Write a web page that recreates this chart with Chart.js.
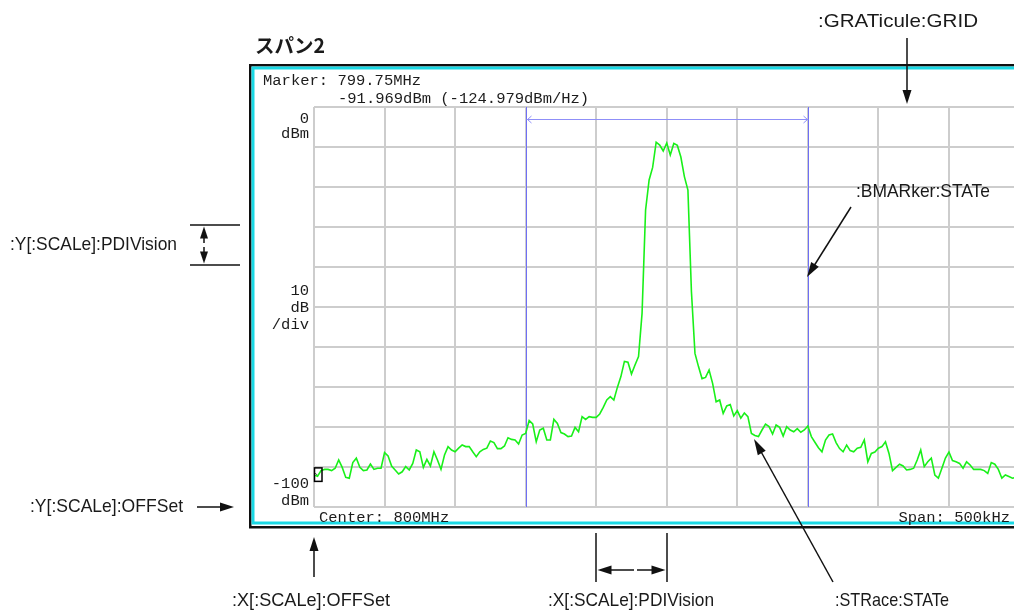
<!DOCTYPE html>
<html><head><meta charset="utf-8">
<script src="https://cdn.jsdelivr.net/npm/chart.js@4.4.1/dist/chart.umd.min.js"></script>
<style>html,body{margin:0;padding:0;background:#fff;overflow:hidden;width:1014px;height:613px}canvas{display:block}</style>
</head><body>
<canvas id="c" width="1024" height="613"></canvas>
<script>
// ---- data ----
const sweepKHz = [
-250,-247.5,-245,-242.5,-240,-237.5,-235,-232.5,-230,-227.5,
-225,-222.5,-220,-217.5,-215,-212.5,-210,-207.5,-205,-202.5,
-200,-197.5,-195,-192.5,-190,-187.5,-185,-182.5,-180,-177.5,
-175,-172.5,-170,-167.5,-165,-162.5,-160,-157.5,-155,-152.5,
-150,-147.5,-145,-142.5,-140,-137.5,-135,-132.5,-130,-127.5,
-125,-122.5,-120,-117.5,-115,-112.5,-110,-107.5,-105,-102.5,
-100,-97.5,-95,-92.5,-90,-87.5,-85,-82.5,-80,-77.5,
-75,-72.5,-70,-67.5,-65,-62.5,-60,-57.5,-55,-52.5,
-50,-47.5,-45,-42.5,-40,-37.5,-35,-32.5,-30,-27.5,
-25,-22.5,-20,-17.5,-15,-12.5,-10,-7.5,-5,-2.5,
0,2.5,5,7.5,10,12.5,15,17.5,20,22.5,
25,27.5,30,32.5,35,37.5,40,42.5,45,47.5,
50,52.5,55,57.5,60,62.5,65,67.5,70,72.5,
75,77.5,80,82.5,85,87.5,90,92.5,95,97.5,
100,102.5,105,107.5,110,112.5,115,117.5,120,122.5,
125,127.5,130,132.5,135,137.5,140,142.5,145,147.5,
150,152.5,155,157.5,160,162.5,165,167.5,170,172.5,
175,177.5,180,182.5,185,187.5,190,192.5,195,197.5,
200,202.5,205,207.5,210,212.5,215,217.5,220,222.5,
225,227.5,230,232.5,235,237.5,240,242.5,245,247.5,
250];
const traceDbm = [
-91.97,-92.3,-90.9,-90.6,-90.6,-90.9,-90.3,-88.25,-90.1,-92.6,
-92.8,-88.9,-87.8,-90.1,-90.9,-90.75,-89.25,-90.6,-90.3,-90.3,
-86.4,-87.25,-89.75,-90.75,-91.75,-91.2,-89.9,-90.75,-89.1,-85.75,
-86.2,-90.1,-88.1,-89.75,-86.2,-88.25,-90.6,-87.0,-84.9,-85.75,
-86.2,-85.3,-84.5,-84.9,-84.9,-86.2,-87.4,-86.2,-85.6,-85.3,
-83.5,-83.9,-85.4,-85.4,-84.75,-82.7,-83.1,-83.25,-84.25,-82.0,
-81.6,-78.4,-79.25,-83.7,-80.75,-80.3,-83.25,-83.25,-78.1,-79.1,
-81.4,-81.75,-82.4,-82.25,-80.1,-81.2,-77.4,-78.1,-77.4,-77.6,
-77.6,-76.75,-75.1,-73.25,-72.4,-73.25,-70.1,-67.4,-63.6,-63.8,
-66.75,-64.5,-62.4,-51.6,-25.75,-18.25,-15.1,-8.8,-9.5,-11.0,
-9.0,-12.0,-9.1,-9.6,-12.5,-17.4,-20.75,-46.2,-61.6,-64.9,
-67.9,-67.6,-65.75,-69.1,-73.7,-73.25,-76.6,-74.75,-74.4,-77.25,
-75.9,-77.8,-76.5,-77.4,-81.6,-82.1,-82.4,-80.75,-79.3,-79.9,
-81.75,-79.5,-80.1,-82.25,-79.9,-80.75,-81.2,-80.4,-81.3,-80.75,
-79.75,-82.4,-83.8,-85.2,-86.2,-83.25,-82.0,-81.75,-83.9,-85.4,
-86.2,-84.5,-85.9,-86.2,-85.3,-85.1,-83.25,-88.7,-86.6,-86.25,
-85.3,-84.9,-83.7,-86.6,-90.9,-90.1,-89.3,-89.75,-90.75,-90.6,
-90.3,-88.25,-85.75,-89.9,-88.7,-87.8,-92.0,-92.8,-90.3,-87.75,
-86.25,-88.4,-88.7,-89.1,-90.3,-88.7,-89.5,-90.6,-90.6,-90.6,
-90.9,-91.6,-88.9,-89.3,-90.6,-92.8,-92.0,-92.4,-92.8,-92.6,
-92.4];
const spanKHz = 500;
const refLevelDbm = 0;
const dbPerDiv = 10;
const yDivs = 10;
const xDivs = 10;
const bandEdgesKHz = [-100, 100];
const markerIndex = 0;
const markerReadout = ['Marker: 799.75MHz', '-91.969dBm (-124.979dBm/Hz)'];
const yTopLabel = ['0', 'dBm'];
const yMidLabel = ['10', 'dB', '/div'];
const yBottomLabel = ['-100', 'dBm'];
const footerLeft = 'Center: 800MHz';
const footerRight = 'Span: 500kHz';
const titleText = 'スパン2';
const calloutTexts = [':GRATicule:GRID', ':BMARker:STATe', ':Y[:SCALe]:PDIVision', ':Y[:SCALe]:OFFSet', ':X[:SCALe]:OFFSet', ':X[:SCALe]:PDIVision', ':STRace:STATe'];

// ---- layout ----
const W = 1024, H = 613;
const PL = 314, PT = 107, PR = 1019.5, PB = 507;
const calloutPos = [
  {x:818, y:22, w:160}, {x:856, y:192, w:134}, {x:10, y:245, w:167},
  {x:30, y:507, w:153}, {x:232, y:601, w:158}, {x:548, y:601, w:166}, {x:835, y:601, w:114}
];
const MONO = '15.5px "Liberation Mono", monospace';
const INK = '#1c1c1c';

function txt(ctx, s, x, y, font, align, color, width) {
  ctx.save(); ctx.font = font; ctx.fillStyle = color || INK; ctx.textBaseline = 'middle';
  if (width) { const m = ctx.measureText(s).width; ctx.translate(x, y); ctx.scale(width / m, 1); ctx.textAlign = 'left'; ctx.fillText(s, 0, 0); }
  else { ctx.textAlign = align || 'left'; ctx.fillText(s, x, y); }
  ctx.restore();
}
function head(ctx, x1, y1, x2, y2, len, half) {
  const a = Math.atan2(y2 - y1, x2 - x1), c = Math.cos(a), s = Math.sin(a);
  ctx.beginPath(); ctx.moveTo(x2, y2);
  ctx.lineTo(x2 - len * c + half * s, y2 - len * s - half * c);
  ctx.lineTo(x2 - len * c - half * s, y2 - len * s + half * c);
  ctx.closePath(); ctx.fill();
}
function arrow(ctx, x1, y1, x2, y2, len, half) {
  len = len || 13; half = half || 4.5;
  const a = Math.atan2(y2 - y1, x2 - x1);
  ctx.beginPath(); ctx.moveTo(x1, y1); ctx.lineTo(x2 - (len - 2) * Math.cos(a), y2 - (len - 2) * Math.sin(a)); ctx.stroke();
  head(ctx, x1, y1, x2, y2, len, half);
}
function line(ctx, x1, y1, x2, y2) { ctx.beginPath(); ctx.moveTo(x1, y1); ctx.lineTo(x2, y2); ctx.stroke(); }

const bandPlugin = {
  id: 'band',
  beforeDatasetsDraw(chart) {
    const ctx = chart.ctx, xs = chart.scales.x, a = chart.chartArea;
    const xa = Math.round(xs.getPixelForValue(bandEdgesKHz[0])) + 0.5;
    const xb = Math.round(xs.getPixelForValue(bandEdgesKHz[1])) + 0.5;
    ctx.save();
    ctx.strokeStyle = '#6f6ff5'; ctx.lineWidth = 1;
    line(ctx, xa, a.top, xa, a.bottom); line(ctx, xb, a.top, xb, a.bottom);
    const yy = a.top + 12.5;
    ctx.strokeStyle = '#8f8ff8';
    line(ctx, xa, yy, xb, yy);
    ctx.beginPath(); ctx.moveTo(xa + 5, yy - 3.5); ctx.lineTo(xa + 1, yy); ctx.lineTo(xa + 5, yy + 3.5);
    ctx.moveTo(xb - 5, yy - 3.5); ctx.lineTo(xb - 1, yy); ctx.lineTo(xb - 5, yy + 3.5); ctx.stroke();
    ctx.restore();
  },
  afterDatasetsDraw(chart) {
    const ctx = chart.ctx, xs = chart.scales.x, ys = chart.scales.y;
    const mx = xs.getPixelForValue(sweepKHz[markerIndex]);
    const my = ys.getPixelForValue(traceDbm[markerIndex]);
    ctx.save(); ctx.strokeStyle = '#000'; ctx.lineWidth = 1.5;
    ctx.strokeRect(mx + 0.5, my - 7, 7.5, 13.5);
    ctx.strokeStyle = '#333'; ctx.lineWidth = 1;
    line(ctx, mx + 1, my - 2, mx + 3, my);
    ctx.restore();
  }
};

const decorPlugin = {
  id: 'decor',
  afterDraw(chart) {
    const ctx = chart.ctx;
    ctx.save();
    // instrument frame
    ctx.strokeStyle = '#101010'; ctx.lineWidth = 2.5;
    ctx.strokeRect(250.25, 65.25, 820, 462);
    ctx.strokeStyle = '#1ad8e4'; ctx.lineWidth = 3;
    ctx.strokeRect(253, 68, 820, 455);
    // title
    txt(ctx, titleText, 255, 46, 'bold 19.5px "Noto Sans CJK JP", sans-serif', 'left', '#1a1a1a');
    // readouts
    txt(ctx, markerReadout[0], 263, 80.5, MONO, 'left');
    txt(ctx, markerReadout[1], 338, 99, MONO, 'left');
    txt(ctx, yTopLabel[0], 309, 118.5, MONO, 'right');
    txt(ctx, yTopLabel[1], 309, 134, MONO, 'right');
    txt(ctx, yMidLabel[0], 309, 291, MONO, 'right');
    txt(ctx, yMidLabel[1], 309, 307.5, MONO, 'right');
    txt(ctx, yMidLabel[2], 309, 325, MONO, 'right');
    txt(ctx, yBottomLabel[0], 309, 484, MONO, 'right');
    txt(ctx, yBottomLabel[1], 309, 501, MONO, 'right');
    txt(ctx, footerLeft, 319, 517.5, MONO, 'left');
    txt(ctx, footerRight, 1010, 517.5, MONO, 'right');
    // callouts
    calloutTexts.forEach((t, i) => {
      const p = calloutPos[i];
      txt(ctx, t, p.x, p.y, '19px "Liberation Sans", Arial, sans-serif', 'left', '#1a1a1a', p.w);
    });
    ctx.strokeStyle = '#111'; ctx.fillStyle = '#111'; ctx.lineWidth = 1.5;
    // GRID
    arrow(ctx, 907, 38, 907, 104, 14, 4.5);
    // BMARker
    arrow(ctx, 851, 207, 807, 277, 15, 4.5);
    // Y PDIV
    line(ctx, 190, 225, 240, 225); line(ctx, 190, 265, 240, 265);
    arrow(ctx, 204, 243, 204, 226.5, 12, 4);
    arrow(ctx, 204, 247, 204, 263.5, 12, 4);
    // Y OFFSet
    arrow(ctx, 197, 507, 234, 507, 14, 4.5);
    // X OFFSet
    arrow(ctx, 314, 577, 314, 537, 14, 4.5);
    // X PDIV
    line(ctx, 596, 533, 596, 582); line(ctx, 667, 533, 667, 582);
    arrow(ctx, 634, 570, 597.5, 570, 14, 4.5);
    arrow(ctx, 637, 570, 665.5, 570, 14, 4.5);
    // STRace
    arrow(ctx, 833, 582, 754, 439, 16, 4.5);
    ctx.restore();
  }
};

new Chart(document.getElementById('c'), {
  type: 'line',
  data: { datasets: [{
    data: sweepKHz.map((f, i) => ({ x: f, y: traceDbm[i] })),
    borderColor: '#19f019', borderWidth: 1.6, pointRadius: 0, tension: 0, fill: false
  }] },
  options: {
    responsive: false, animation: false, devicePixelRatio: 1,
    layout: { padding: { left: PL, top: PT, right: W - PR, bottom: H - PB } },
    plugins: { legend: { display: false }, tooltip: { enabled: false } },
    scales: {
      x: { type: 'linear', min: -spanKHz / 2, max: spanKHz / 2,
           ticks: { display: false, stepSize: spanKHz / xDivs },
           grid: { color: '#cdcdcd', lineWidth: 2, drawTicks: false }, border: { display: false } },
      y: { type: 'linear', min: refLevelDbm - dbPerDiv * yDivs, max: refLevelDbm,
           ticks: { display: false, stepSize: dbPerDiv },
           grid: { color: '#cdcdcd', lineWidth: 2, drawTicks: false }, border: { display: false } }
    }
  },
  plugins: [bandPlugin, decorPlugin]
});
</script>
</body></html>
